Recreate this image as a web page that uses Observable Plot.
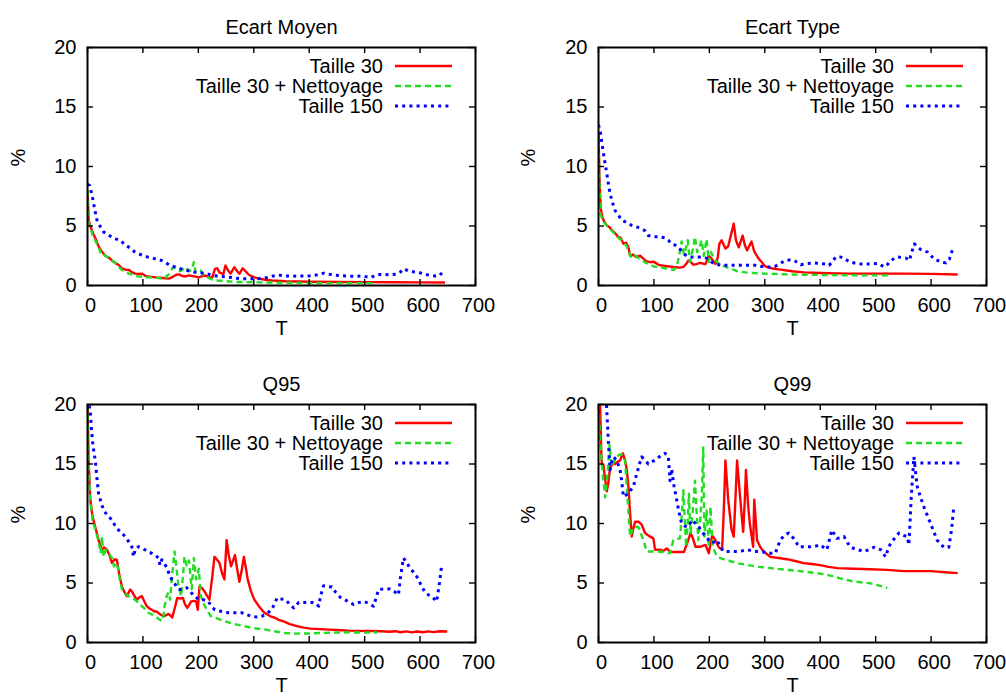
<!DOCTYPE html>
<html><head><meta charset="utf-8">
<script src="https://cdn.jsdelivr.net/npm/d3@7"></script>
<script src="https://cdn.jsdelivr.net/npm/@observablehq/plot@0.6"></script>
<style>
body{margin:0;background:#fff;}
#root{position:relative;width:1006px;height:700px;background:#fff;overflow:hidden;}
.panel{position:absolute;}
</style></head><body><div id="root"></div>
<script>
const seriesNames = ["Taille 30", "Taille 30 + Nettoyage", "Taille 150"];
const panelTitles = ["Ecart Moyen", "Ecart Type", "Q95", "Q99"];
const xTicks = [0, 100, 200, 300, 400, 500, 600, 700];
const yTicks = [0, 5, 10, 15, 20];
const xLabel = "T";
const yLabel = "%";

// ---- Ecart Moyen ----
const moyenT30 = [[0,8],[2,5.5],[5,5.0],[10,4.4],[14,4.0],[20,3.3],[25,2.9],[32,2.5],[40,2.3],[44,2.1],[50,1.9],[57,1.7],[62,1.45],[68,1.33],[75,1.3],[80,1.12],[86,1.0],[92,0.98],[98,1.0],[105,0.8],[112,0.75],[123,0.68],[132,0.65],[141,0.6],[147,0.58],[153,0.7],[160,0.9],[165,0.93],[171,0.8],[177,0.76],[183,0.85],[189,0.8],[195,0.75],[201,0.67],[207,0.8],[213,0.84],[219,0.7],[225,0.67],[230,1.4],[234,1.45],[238,1.1],[245,0.95],[249,1.68],[253,1.3],[258,1.0],[265,1.54],[270,1.2],[274,0.98],[280,1.45],[285,1.2],[291,0.9],[300,0.7],[309,0.58],[320,0.48],[333,0.42],[357,0.36],[380,0.33],[400,0.32],[450,0.3],[500,0.28],[550,0.27],[600,0.26],[645,0.25]];
const moyenNet = [[0,8],[2,5.3],[5,4.9],[10,4.1],[15,3.7],[20,3.2],[23,2.8],[26,2.9],[30,2.6],[35,2.4],[40,2.3],[45,2.1],[50,1.9],[57,1.54],[62,1.3],[68,1.2],[74,1.0],[80,0.95],[86,0.8],[95,0.75],[104,0.7],[113,0.68],[122,0.66],[132,0.6],[138,0.5],[143,0.8],[148,1.0],[153,1.45],[158,1.5],[162,1.35],[167,1.2],[171,1.3],[176,1.55],[180,1.4],[184,1.2],[188,1.3],[192,1.96],[195,1.1],[199,1.2],[204,1.26],[208,0.95],[213,0.8],[220,0.6],[225,0.5],[235,0.42],[249,0.36],[270,0.3],[297,0.27],[330,0.25],[380,0.22],[430,0.2],[480,0.2],[520,0.2]];
const moyenT150 = [[0,8.5],[4,8.4],[9,7.4],[13,6.4],[17,5.5],[20,5.2],[25,4.8],[29,4.5],[36,4.3],[44,4.07],[52,3.9],[59,3.8],[66,3.5],[74,3.23],[80,3.0],[86,2.8],[93,2.65],[101,2.5],[108,2.4],[116,2.33],[125,2.2],[134,2.1],[142,1.9],[149,1.68],[155,1.6],[161,1.54],[168,1.4],[176,1.32],[185,1.2],[194,1.12],[201,1.08],[209,1.04],[218,0.95],[227,0.84],[235,0.8],[242,0.76],[251,0.72],[260,0.67],[269,0.6],[278,0.56],[290,0.56],[302,0.56],[314,0.6],[326,0.67],[335,0.8],[344,0.88],[357,0.8],[370,0.78],[383,0.8],[395,0.78],[405,0.82],[415,0.9],[426,1.04],[436,0.95],[446,0.88],[456,0.82],[466,0.8],[476,0.78],[486,0.78],[496,0.8],[505,0.72],[511,0.67],[519,0.85],[527,0.93],[537,0.93],[547,0.9],[556,0.95],[565,1.15],[570,1.4],[578,1.25],[588,1.15],[598,1.1],[608,0.95],[618,0.85],[628,0.8],[636,0.85],[642,1.26]];

// ---- Ecart Type ----
const typeT30 = [[0,12.8],[2,8.5],[4,6.5],[7,5.75],[10,5.4],[15,5.05],[20,4.9],[25,4.6],[30,4.4],[35,4.1],[40,4.0],[45,3.5],[50,3.6],[54,3.2],[57,2.5],[62,2.6],[68,2.4],[75,2.5],[80,2.3],[86,2.05],[93,1.96],[100,2.0],[106,1.8],[111,1.7],[120,1.65],[128,1.6],[135,1.55],[145,1.5],[153,1.55],[158,1.8],[162,2.1],[166,2.0],[171,1.75],[177,1.8],[183,1.9],[188,1.85],[193,1.8],[199,2.5],[205,2.2],[211,1.8],[215,2.3],[218,3.5],[222,3.8],[226,3.4],[229,3.1],[234,3.3],[244,5.2],[248,3.8],[253,3.2],[260,4.2],[264,3.4],[268,2.95],[276,3.7],[280,3.0],[283,2.7],[290,2.2],[301,1.6],[312,1.45],[325,1.35],[349,1.2],[371,1.1],[400,1.05],[450,1.0],[500,1.0],[550,1.0],[600,0.98],[648,0.93]];
const typeNet = [[0,12],[2,8],[4,6],[7,5.5],[12,5.2],[18,4.9],[24,4.6],[30,4.3],[36,4.0],[42,3.8],[45,3.6],[50,3.4],[55,2.8],[60,2.3],[66,2.5],[72,2.3],[78,2.2],[85,1.9],[92,1.8],[100,1.6],[110,1.5],[120,1.45],[130,1.35],[136,1.3],[141,1.6],[145,2.4],[150,3.7],[154,2.6],[158,3.2],[161,3.8],[165,2.0],[170,3.0],[174,4.1],[178,2.8],[182,3.2],[186,3.8],[190,2.5],[195,3.9],[199,2.0],[203,2.8],[208,2.3],[213,2.0],[220,1.75],[230,1.55],[240,1.4],[250,1.2],[265,1.1],[280,1.05],[300,1.0],[330,0.95],[370,0.9],[420,0.88],[470,0.85],[522,0.85]];
const typeT150 = [[0,13.5],[3,13],[6,12],[9,11.1],[12,10.2],[15,9.4],[18,8.5],[21,7.7],[25,7],[30,6.3],[36,5.9],[42,5.5],[50,5.3],[60,5.05],[70,4.9],[80,4.7],[84,4.6],[90,4.2],[99,4.1],[108,4.1],[120,4.0],[126,3.8],[132,3.5],[138,3.4],[144,3.2],[148,3.0],[153,2.7],[159,2.5],[165,2.4],[172,2.4],[180,2.4],[188,2.35],[195,2.3],[203,2.0],[210,1.8],[216,1.75],[222,1.7],[235,1.7],[247,1.7],[259,1.7],[271,1.7],[283,1.7],[295,1.6],[307,1.55],[318,1.6],[328,1.85],[337,2.1],[345,2.15],[353,2.1],[365,1.75],[377,1.85],[389,1.9],[401,1.85],[410,1.8],[416,1.7],[422,2.0],[428,2.4],[436,2.4],[443,2.3],[449,2.1],[455,1.96],[465,1.85],[474,1.8],[483,1.8],[492,1.8],[504,1.85],[510,1.7],[516,1.55],[522,1.8],[528,2.1],[534,2.3],[540,2.4],[548,2.35],[555,2.3],[561,2.1],[565,2.8],[570,3.5],[576,3.2],[582,3.0],[588,2.9],[594,2.8],[600,2.5],[606,2.2],[612,2.1],[618,1.96],[627,1.9],[633,2.2],[637,2.8],[641,3.3]];

// ---- Q95 ----
const q95T30 = [[0,20],[2,15.3],[5,12],[9,10.6],[14,9.7],[20,8.6],[26,7.8],[30,8.0],[35,7.8],[40,7.3],[44,6.7],[49,7.0],[53,6.95],[57,5.8],[62,4.7],[66,4.3],[71,3.9],[77,4.45],[80,4.3],[85,3.9],[89,3.6],[94,3.8],[98,3.9],[103,3.4],[107,3.05],[112,2.85],[116,2.75],[121,2.6],[125,2.6],[130,2.4],[137,2.2],[142,2.3],[146,2.4],[150,2.25],[153,2.1],[158,3.0],[162,3.75],[167,3.7],[172,3.75],[176,3.2],[180,2.9],[184,3.2],[187,3.45],[192,3.5],[196,3.45],[199,2.75],[202,4.7],[206,4.6],[211,4.3],[216,3.9],[220,3.6],[225,5.5],[229,7.2],[233,7.0],[238,6.7],[243,5.8],[247,5.3],[251,8.6],[255,7.3],[259,6.4],[262,6.8],[266,7.35],[270,6.2],[274,5.1],[278,6.0],[282,7.2],[286,6.2],[289,5.3],[295,4.3],[301,3.6],[310,3.0],[319,2.5],[330,2.2],[337,2.1],[345,1.9],[355,1.75],[365,1.55],[378,1.37],[390,1.25],[402,1.17],[420,1.12],[435,1.08],[450,1.05],[470,1.0],[490,0.98],[511,0.97],[530,0.95],[545,0.9],[555,0.95],[565,0.86],[575,0.93],[585,0.85],[595,0.92],[605,0.86],[615,0.94],[625,0.87],[635,0.95],[649,0.92]];
const q95Net = [[0,20],[2,15],[5,12],[9,10.3],[14,9.5],[20,8.5],[24,7.5],[26,8.9],[29,7.2],[33,7.8],[38,7.5],[44,7.1],[48,6.4],[53,6.7],[57,5.6],[62,4.5],[68,4.1],[74,3.9],[80,3.7],[86,3.6],[92,3.3],[98,3.05],[104,2.8],[110,2.5],[116,2.35],[122,2.2],[128,2.0],[134,1.8],[137,2.2],[139,3.05],[143,3.9],[146,4.2],[149,3.6],[153,5.85],[157,7.65],[160,6.5],[164,4.85],[169,3.9],[172,5.5],[175,7.2],[179,6.4],[183,6.9],[188,4.5],[192,7.1],[196,5.3],[201,6.2],[204,4.0],[208,3.4],[212,3.05],[217,2.6],[223,2.2],[235,2.0],[247,1.8],[265,1.55],[283,1.37],[300,1.2],[319,1.1],[337,0.95],[355,0.8],[375,0.75],[400,0.76],[420,0.8],[444,0.83],[470,0.85],[500,0.83],[523,0.85]];
const q95T150 = [[0,20.5],[5,19.5],[7,18],[10,16.5],[14,15.3],[17,13.8],[20,12.5],[25,11.7],[29,11.1],[36,10.7],[44,10.3],[50,9.8],[56,9.45],[62,9.2],[68,8.9],[74,8.5],[80,8.05],[83,7.2],[86,7.8],[92,8.05],[100,7.9],[110,7.6],[116,7.5],[122,7.35],[128,7.1],[131,6.5],[134,6.95],[138,6.7],[143,6.3],[147,5.8],[152,5.3],[158,4.9],[163,4.5],[167,4.45],[173,4.5],[179,4.6],[185,4.3],[191,4.0],[196,3.8],[200,3.6],[209,3.6],[218,3.45],[224,3.0],[230,2.75],[242,2.6],[254,2.5],[266,2.5],[278,2.5],[287,2.35],[296,2.2],[305,2.15],[314,2.2],[323,2.4],[332,2.75],[338,3.3],[342,3.75],[350,3.65],[357,3.6],[365,3.2],[372,2.9],[378,3.2],[381,3.37],[393,3.37],[405,3.37],[411,3.3],[417,3.05],[421,4.0],[426,4.77],[434,4.7],[441,4.67],[448,4.2],[456,3.8],[468,3.5],[480,3.2],[489,3.35],[498,3.45],[507,3.3],[516,3.05],[521,3.8],[525,4.45],[536,4.5],[546,4.5],[556,4.2],[561,4.0],[565,5.6],[570,7.1],[576,6.7],[582,6.25],[588,5.9],[594,5.55],[601,4.9],[609,4.2],[615,4.0],[621,3.87],[627,3.6],[630,3.45],[635,5.0],[639,6.5]];

// ---- Q99 ----
const q99T30 = [[0,20],[3,19.8],[5,16],[6,15],[9,14.9],[11,14.06],[15,12.7],[18,13.5],[21,14.75],[26,15.0],[30,15.0],[35,15.2],[39,15.3],[44,15.9],[48,15.3],[51,14.5],[54,13.1],[57,10.85],[60,8.9],[63,9.6],[66,10.15],[72,10.15],[78,9.9],[84,9.2],[90,9.0],[93,8.9],[99,8.75],[102,7.8],[111,7.8],[117,7.7],[123,7.9],[129,7.65],[135,7.6],[141,7.6],[148,7.6],[154,7.6],[160,8.35],[166,9.2],[170,8.8],[175,8.05],[184,8.05],[193,8.2],[199,7.5],[205,9.0],[211,8.6],[217,8.0],[223,7.8],[226,11],[229,15.3],[234,12],[240,9.5],[244,8.9],[247,12],[250,15.3],[255,12.5],[258,10.85],[261,9.3],[264,12],[266,14.5],[270,11.5],[273,10.0],[276,9.0],[279,8.05],[281,12.0],[284,10],[286,8.6],[292,8.0],[298,7.65],[310,7.2],[325,7.1],[340,7.0],[355,6.85],[370,6.67],[385,6.6],[400,6.5],[415,6.35],[431,6.25],[460,6.2],[491,6.15],[520,6.1],[551,6.0],[575,6.0],[600,6.0],[625,5.9],[648,5.83]];
const q99Net = [[0,20],[3,17],[6,15],[9,13.5],[12,12.2],[16,14],[20,16.6],[24,14.75],[28,15.2],[33,15.6],[38,15.8],[42,15.8],[45,15.6],[48,15.3],[51,13.1],[54,11],[57,8.9],[60,9.3],[63,9.7],[68,9.7],[72,9.7],[77,9.1],[81,8.6],[87,7.65],[95,7.65],[105,7.65],[117,7.6],[129,7.5],[135,8.6],[141,8.7],[147,8.75],[150,10.5],[153,12.8],[156,10],[158,8.05],[161,10],[163,12.5],[166,9.2],[170,11],[174,13.6],[177,11],[180,8.6],[183,10],[186,12.0],[189,16.4],[191,8.9],[195,11.1],[199,8.05],[202,11.4],[206,8.05],[210,7.6],[214,7.2],[225,7.0],[237,6.85],[250,6.67],[270,6.5],[290,6.35],[310,6.25],[340,6.1],[370,5.97],[390,5.85],[412,5.7],[435,5.4],[460,5.13],[491,4.97],[505,4.8],[521,4.58]];
const q99T150 = [[8,26],[14,20.4],[18,16.7],[21,14.5],[24,15.2],[27,15.6],[33,15.3],[39,14.5],[42,13.5],[45,12.25],[50,12.4],[54,12.5],[58,12.8],[63,13.1],[69,14.2],[74,15.0],[78,15.6],[84,15.3],[90,15.0],[97,15.2],[105,15.4],[112,15.7],[120,15.9],[126,15.6],[129,13.6],[132,14.6],[136,13.2],[141,12.0],[145,11.0],[150,10.0],[155,9.8],[160,9.7],[165,10.0],[169,10.3],[175,10.0],[181,9.7],[187,9.3],[193,8.9],[199,8.6],[205,8.35],[210,8.5],[214,8.6],[220,8.0],[226,7.65],[238,7.65],[250,7.65],[259,7.7],[268,7.8],[277,7.7],[286,7.65],[298,7.6],[310,7.5],[319,7.5],[323,8.0],[328,8.6],[335,9.0],[343,9.2],[352,8.75],[357,8.4],[361,8.05],[372,8.05],[383,8.05],[392,8.1],[401,8.2],[406,8.0],[412,7.8],[417,8.7],[421,9.45],[430,8.75],[437,8.8],[443,8.9],[449,8.4],[455,8.0],[467,7.8],[479,7.65],[488,7.8],[497,8.0],[503,7.9],[509,7.8],[518,7.2],[522,7.8],[527,8.35],[535,8.8],[542,9.2],[550,9.0],[557,8.9],[560,8.2],[564,12],[569,15.6],[575,13.1],[581,12.2],[587,11.4],[593,10.7],[599,10.0],[605,9.3],[611,8.6],[617,8.3],[623,8.0],[632,8.0],[637,9.5],[641,11.4]];

const panels = [
  {title: panelTitles[0], series: [moyenT30, moyenNet, moyenT150], left: 0, top: 0, height: 350, marginLeft: 87},
  {title: panelTitles[1], series: [typeT30, typeNet, typeT150], left: 503, top: 0, height: 350, marginLeft: 95},
  {title: panelTitles[2], series: [q95T30, q95Net, q95T150], left: 0, top: 357, height: 343, marginLeft: 87},
  {title: panelTitles[3], series: [q99T30, q99Net, q99T150], left: 503, top: 357, height: 343, marginLeft: 95}
];

const lineStyles = [
  {stroke: "#ff0000", strokeWidth: 2.4, strokeDasharray: null},
  {stroke: "#22dd22", strokeWidth: 2.4, strokeDasharray: "6,4"},
  {stroke: "#0000ff", strokeWidth: 3, strokeDasharray: "3,4.2"}
];

const FW = 388, FH = 238, MT = 47, W = 503;
const font = "'Liberation Sans', Arial, Helvetica, sans-serif";
const FS = 20;

for (const p of panels) {
  const mR = W - p.marginLeft - FW;
  const mB = p.height - MT - FH;
  const lineMarks = p.series.map((s, i) => Plot.line(s, {
    x: d => d[0], y: d => d[1],
    stroke: lineStyles[i].stroke, strokeWidth: lineStyles[i].strokeWidth,
    strokeDasharray: lineStyles[i].strokeDasharray,
    strokeLinecap: "butt", strokeLinejoin: "round", clip: true
  }));
  const chart = Plot.plot({
    width: W, height: p.height,
    marginLeft: p.marginLeft, marginRight: mR, marginTop: MT, marginBottom: mB,
    x: {domain: [0, 700], ticks: xTicks},
    y: {domain: [0, 20], ticks: yTicks},
    style: {fontFamily: font, fontSize: FS + "px", background: "white", color: "black", overflow: "visible"},
    marks: [
      Plot.axisX({ticks: xTicks, tickSize: 0, tickPadding: 12, label: null, dx: 3}),
      Plot.axisY({ticks: yTicks, tickSize: 0, tickPadding: 11, label: null}),
      ...lineMarks,
      Plot.ruleX(xTicks, {x: d => d, insetTop: FH - 6, stroke: "black", strokeWidth: 1.4}),
      Plot.ruleX(xTicks, {x: d => d, insetBottom: FH - 6, stroke: "black", strokeWidth: 1.4}),
      Plot.ruleY(yTicks, {y: d => d, insetRight: FW - 6, stroke: "black", strokeWidth: 1.4}),
      Plot.ruleY(yTicks, {y: d => d, insetLeft: FW - 6, stroke: "black", strokeWidth: 1.4}),
      Plot.frame({stroke: "black", strokeWidth: 2}),
      Plot.text([p.title], {frameAnchor: "top", dy: -28, text: d => d}),
      Plot.text([xLabel], {frameAnchor: "bottom", dy: 49, text: d => d}),
      Plot.text([yLabel], {frameAnchor: "left", dx: p.marginLeft === 87 ? -69 : -70, rotate: -90, text: d => d})
    ]
  });
  // legend (labels + line samples) drawn on top of the plot
  const svg = d3.select(chart);
  const g = svg.append("g").attr("font-family", font).attr("font-size", FS);
  const right = p.marginLeft + FW;
  seriesNames.forEach((name, i) => {
    const cy = MT + 19 + i * 20;
    g.append("text").attr("x", right - 92).attr("y", cy).attr("dy", "0.34em")
      .attr("text-anchor", "end").attr("fill", "black").text(name);
    g.append("line").attr("x1", right - 80).attr("x2", right - (i === 2 ? 25 : 23))
      .attr("y1", cy).attr("y2", cy)
      .attr("stroke", lineStyles[i].stroke).attr("stroke-width", lineStyles[i].strokeWidth)
      .attr("stroke-dasharray", lineStyles[i].strokeDasharray).attr("stroke-linecap", "butt");
  });
  const div = document.createElement("div");
  div.className = "panel";
  div.style.left = p.left + "px";
  div.style.top = p.top + "px";
  div.appendChild(chart);
  document.getElementById("root").appendChild(div);
}
</script></body></html>
